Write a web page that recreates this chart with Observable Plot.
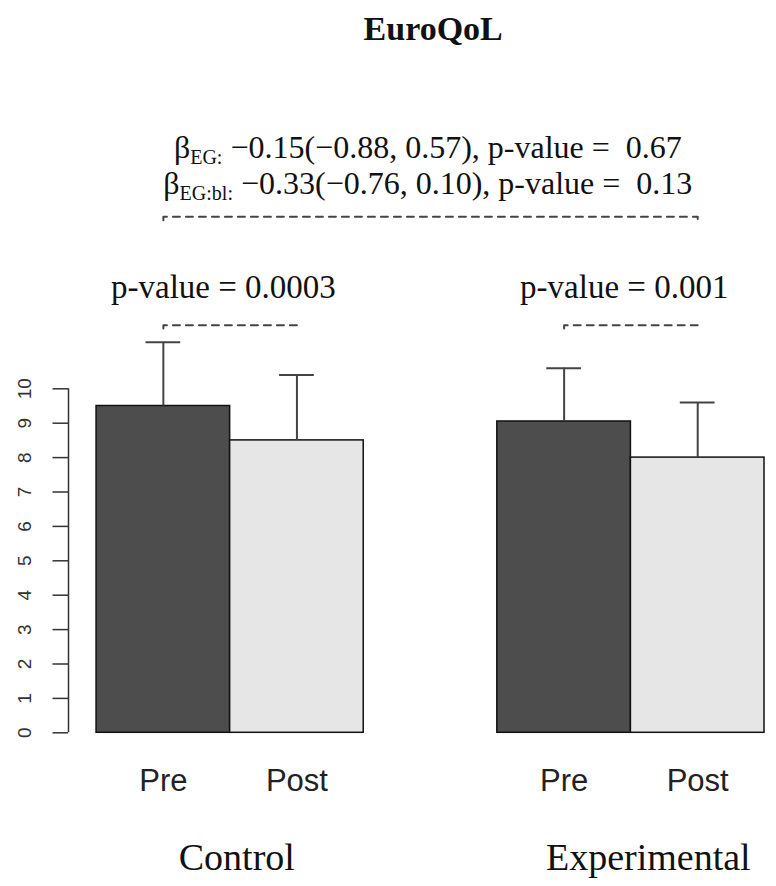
<!DOCTYPE html>
<html><head><meta charset="utf-8">
<script src="https://cdn.jsdelivr.net/npm/d3@7"></script>
<script src="https://cdn.jsdelivr.net/npm/@observablehq/plot@0.6"></script>
<style>body{margin:0;background:#fff}#chart svg{display:block}</style>
</head><body><div id="chart"></div>
<script>
// ---- data ----
const title = "EuroQoL";
const groups = ["Control", "Experimental"];
const conditions = ["Pre", "Post"];
const controlMeans = [9.5, 8.5];
const controlSD = [1.85, 1.9];
const experimentalMeans = [9.05, 8.0];
const experimentalSD = [1.55, 1.6];
const yTicks = [0, 1, 2, 3, 4, 5, 6, 7, 8, 9, 10];
const withinPValues = ["p-value = 0.0003", "p-value = 0.001"];
const betaSubs = ["EG:", "EG:bl:"];
const betaTexts = ["\u22120.15(\u22120.88, 0.57), p-value =  0.67", "\u22120.33(\u22120.76, 0.10), p-value =  0.13"];

// ---- layout constants ----
const serif = "Liberation Serif, Times New Roman, serif";
const sans = "Liberation Sans Narrow, Liberation Sans, Arial, sans-serif";
const xAxisPos = -0.21;
const groupStep = 3;
const bracketY = 11.85, topBracketY = 15, hook = 0.1, capHalf = 0.13;
const groupLabelShift = [0.05, 0.13];
const pLabelShift = -0.05;

const meansBy = [controlMeans, experimentalMeans];
const sdBy = [controlSD, experimentalSD];
const table = [];
groups.forEach((g, gi) => conditions.forEach((c, ci) => {
  const x1 = gi * groupStep + ci;
  table.push({group: g, condition: c, x1, x2: x1 + 1, xm: x1 + 0.5,
    mean: meansBy[gi][ci], upper: meansBy[gi][ci] + sdBy[gi][ci]});
}));
const bx = (gi, ci) => gi * groupStep + ci + 0.5;
const brackets = [
  {id: "c", a: bx(0, 0), b: bx(0, 1), y: bracketY},
  {id: "e", a: bx(1, 0), b: bx(1, 1), y: bracketY},
  {id: "t", a: bx(0, 0), b: bx(1, 1), y: topBracketY}
];
const bracketPts = brackets.flatMap(d => [
  {id: d.id, x: d.a, y: d.y - hook}, {id: d.id, x: d.a, y: d.y},
  {id: d.id, x: d.b, y: d.y}, {id: d.id, x: d.b, y: d.y - hook}]);
const pLabels = withinPValues.map((t, gi) => ({t, x: gi * groupStep + 1 + pLabelShift}));
const betaLabels = betaSubs.map((s, i) => ({t: "\u03B2" + s + " " + betaTexts[i], y: 17.0 - i * 1.05}));

const plot = Plot.plot({
  width: 776, height: 886,
  marginLeft: 68, marginRight: 12, marginTop: 388.3, marginBottom: 153.7,
  x: {type: "linear", domain: [xAxisPos, 5], axis: null},
  y: {domain: [0, 10], axis: null},
  style: {background: "#fff", color: "#222"},
  marks: [
    Plot.ruleX([xAxisPos], {y1: 0, y2: 10, stroke: "#333", strokeWidth: 1.5}),
    Plot.axisY(yTicks, {anchor: "left", tickSize: 15.5, tickRotate: -90, tickPadding: 22,
      fontSize: 19, fontFamily: "Liberation Sans, Arial, sans-serif", stroke: "#333", strokeWidth: 1.5, fill: "#333"}),
    Plot.rect(table, {x1: "x1", x2: "x2", y1: 0, y2: "mean",
      fill: d => d.condition === "Pre" ? "#4d4d4d" : "#e6e6e6", stroke: "#111", strokeWidth: 1.5}),
    Plot.ruleX(table, {x: "xm", y1: "mean", y2: "upper", stroke: "#444", strokeWidth: 2}),
    Plot.ruleY(table, {y: "upper", x1: d => d.xm - capHalf, x2: d => d.xm + capHalf, stroke: "#444", strokeWidth: 2}),
    Plot.line(bracketPts, {x: "x", y: "y", z: "id", stroke: "#444", strokeWidth: 2, strokeDasharray: "7,6"}),
    Plot.text(table, {x: "xm", y: 0, text: "condition", dy: 48, fontSize: 31, fontFamily: sans, fill: "#222"}),
    Plot.text(groups, {x: (d, i) => i * groupStep + 1 + groupLabelShift[i], y: 0, text: d => d, dy: 125, fontSize: 38, fontFamily: serif, fill: "#111"}),
    Plot.text(pLabels, {x: "x", y: 12.94, text: "t", fontSize: 33, fontFamily: serif, fill: "#111"}),
    Plot.text(betaLabels, {x: 2.48, y: "y", text: "t", fontSize: 32, fontFamily: serif, fill: "#111"}),
    Plot.text([title], {x: 2.52, y: 20.45, text: d => d, fontSize: 34, fontWeight: "bold", fontFamily: serif, fill: "#111"})
  ]
});

// subscripts for beta labels
const ns = "http://www.w3.org/2000/svg";
plot.querySelectorAll("text").forEach(el => {
  const m = el.textContent.match(/^\u03B2(\S+) (.*)$/);
  if (!m) return;
  el.textContent = "";
  el.style.whiteSpace = "pre";
  const a = document.createElementNS(ns, "tspan"); a.textContent = "\u03B2";
  const b = document.createElementNS(ns, "tspan"); b.textContent = m[1];
  b.setAttribute("font-size", "20"); b.setAttribute("dy", "6");
  const c = document.createElementNS(ns, "tspan"); c.textContent = " " + m[2];
  c.setAttribute("dy", "-6");
  el.append(a, b, c);
});
document.getElementById("chart").append(plot);
</script>
</body></html>
